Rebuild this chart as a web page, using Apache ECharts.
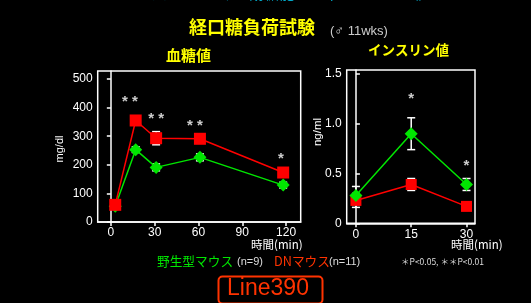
<!DOCTYPE html>
<html>
<head>
<meta charset="utf-8">
<script src="https://cdn.jsdelivr.net/npm/echarts@6/dist/echarts.min.js"></script>
<style>
  html, body { margin: 0; padding: 0; background: #000; }
  #chart { width: 531px; height: 303px; }
</style>
</head>
<body>
<div id="chart"></div>
<script>
  // 血糖値 (mg/dl)
  var glucoseTime = [3, 17, 31, 61, 118]
  var glucoseWT = [55, 253, 191, 226, 129]
  var glucoseWTErr = [6, 10, 12, 12, 10]
  var glucoseDN = [60, 355, 293, 291, 173]
  var glucoseDNErr = [8, 6, 23, 8, 6]
  var glucoseTicks = [0, 100, 200, 300, 400, 500]
  var glucoseXTicks = [0, 30, 60, 90, 120]
  var glucoseStars = [[13, 420, '* *'], [31, 361, '* *'], [57.5, 336, '* *'], [116.5, 222, '*']]

  // インスリン値 (ng/ml)
  var insulinTime = [0, 15, 30]
  var insulinWT = [0.28, 0.9, 0.39]
  var insulinWTErr = [0.09, 0.16, 0.06]
  var insulinDN = [0.23, 0.39, 0.17]
  var insulinDNErr = [0.07, 0.06, 0.03]
  var insulinTicks = [0, 0.5, 1.0, 1.5]
  var insulinXTicks = [0, 15, 30]
  var insulinStars = [[15, 1.25, '*'], [30, 0.58, '*']]

  var RED = '#ff0000'
  var GREEN = '#00e600'
  var FONT = '"Liberation Sans", Arial, sans-serif'
  var JP = '"Noto Sans CJK JP", sans-serif'

  function pairs(xs, ys) {
    return xs.map(function (x, i) { return [x, ys[i]] })
  }
  function triples(xs, ys, es) {
    return xs.map(function (x, i) { return [x, ys[i], es[i]] })
  }

  //误差线
  function errorBar(params, api) {
    var x = api.value(0), y = api.value(1), e = api.value(2)
    var hi = api.coord([x, y + e])
    var lo = api.coord([x, y - e])
    var w = 4
    var st = {stroke: '#fff', lineWidth: 1.5}
    return {
      type: 'group',
      children: [
        {type: 'line', shape: {x1: hi[0], y1: hi[1], x2: lo[0], y2: lo[1]}, style: st},
        {type: 'line', shape: {x1: hi[0] - w, y1: hi[1], x2: hi[0] + w, y2: hi[1]}, style: st},
        {type: 'line', shape: {x1: lo[0] - w, y1: lo[1], x2: lo[0] + w, y2: lo[1]}, style: st}
      ]
    }
  }

  function axisBase() {
    return {
      type: 'value',
      axisLine: {show: true, lineStyle: {color: '#fff', width: 1.5}},
      axisTick: {show: true, length: 4, lineStyle: {color: '#fff', width: 1.5}},
      axisLabel: {color: '#fff', fontSize: 12, fontFamily: FONT},
      splitLine: {show: false}
    }
  }

  var xL = axisBase()
  xL.gridIndex = 0
  xL.min = -9
  xL.max = 130
  xL.axisTick.customValues = glucoseXTicks
  xL.axisLabel.customValues = glucoseXTicks
  xL.axisLabel.margin = 5

  var yL = axisBase()
  yL.gridIndex = 0
  yL.min = 0
  yL.max = 528
  yL.axisTick.customValues = glucoseTicks
  yL.axisLabel.customValues = glucoseTicks
  yL.axisLabel.margin = 5

  var xR = axisBase()
  xR.gridIndex = 1
  xR.min = -2.5
  xR.max = 32.3
  xR.axisTick.customValues = insulinXTicks
  xR.axisLabel.customValues = insulinXTicks
  xR.axisLabel.margin = 5

  var yR = axisBase()
  yR.gridIndex = 1
  yR.min = 0
  yR.max = 1.54
  yR.axisTick.inside = true
  yR.axisTick.customValues = insulinTicks
  yR.axisLabel.customValues = insulinTicks
  yR.axisLabel.margin = 5
  yR.axisLabel.formatter = function (v) { return v === 0 ? '0' : v.toFixed(1) }

  function stars(data, xi) {
    return {
      type: 'scatter', xAxisIndex: xi, yAxisIndex: xi,
      symbolSize: 0, silent: true, z: 5,
      data: data,
      label: {
        show: true, position: 'inside', color: '#fff',
        fontSize: 15, fontWeight: 'bold', fontFamily: FONT,
        formatter: function (p) { return p.value[2] }
      }
    }
  }

  function lineSeries(xi, data, color, symbol, size) {
    return {
      type: 'line', xAxisIndex: xi, yAxisIndex: xi,
      data: data, symbol: symbol, symbolSize: size,
      lineStyle: {color: color, width: 1.5},
      itemStyle: {color: color, opacity: 1},
      z: 4, animation: false
    }
  }

  function errSeries(xi, data) {
    return {
      type: 'custom', xAxisIndex: xi, yAxisIndex: xi,
      renderItem: errorBar, data: data, z: 3, silent: true
    }
  }

  function txt(text, x, y, size, color, extra) {
    var o = {type: 'text', left: x, top: y, silent: true,
      style: {text: text, fill: color, fontSize: size, fontFamily: JP}}
    if (extra) { for (var k in extra) o.style[k] = extra[k] }
    return o
  }

  var chart = echarts.init(document.getElementById('chart'))
  var option = {
    backgroundColor: '#000',
    animation: false,
    grid: [
      {left: 97.7, right: 230.3, top: 71, bottom: 81, show: true, borderColor: '#fff', borderWidth: 1.5},
      {left: 346.7, right: 56, top: 70, bottom: 79.7, show: true, borderColor: '#fff', borderWidth: 1.5}
    ],
    xAxis: [xL, xR],
    yAxis: [yL, yR],
    series: [
      errSeries(0, triples(glucoseTime, glucoseWT, glucoseWTErr)),
      errSeries(0, triples(glucoseTime, glucoseDN, glucoseDNErr)),
      lineSeries(0, pairs(glucoseTime, glucoseWT), GREEN, 'diamond', 13),
      lineSeries(0, pairs(glucoseTime, glucoseDN), RED, 'rect', 12),
      stars(glucoseStars, 0),
      errSeries(1, triples(insulinTime, insulinWT, insulinWTErr)),
      errSeries(1, triples(insulinTime, insulinDN, insulinDNErr)),
      lineSeries(1, pairs(insulinTime, insulinDN), RED, 'rect', 11),
      lineSeries(1, pairs(insulinTime, insulinWT), GREEN, 'diamond', 13),
      stars(insulinStars, 1)
    ],
    graphic: [
      txt('DNマウスにおける耐糖能と血中インスリン値', 123, -14, 15, '#00a8c8'),
      txt('経口糖負荷試験', 189, 18, 18, '#ffff00', {fontWeight: 'bold'}),
      txt('(♂ 11wks)', 330, 25, 13, '#cccccc', {fontFamily: FONT}),
      txt('血糖値', 166, 48, 15, '#ffff00', {fontWeight: 'bold'}),
      txt('インスリン値', 368, 43, 13.5, '#ffff00', {fontWeight: 'bold'}),
      {type: 'text', x: 60, y: 149, rotation: Math.PI / 2, silent: true,
        style: {text: 'mg/dl', fill: '#fff', fontSize: 11, fontFamily: FONT, align: 'center', verticalAlign: 'middle'}},
      {type: 'text', x: 318, y: 132, rotation: Math.PI / 2, silent: true,
        style: {text: 'ng/ml', fill: '#fff', fontSize: 11.5, fontFamily: FONT, align: 'center', verticalAlign: 'middle'}},
      txt('時間(min)', 251, 239, 11.5, '#fff'),
      txt('時間(min)', 451, 239, 11.5, '#fff'),
      txt('野生型マウス', 157, 255, 12.7, GREEN),
      txt('(n=9)', 237, 256, 11, '#dddddd', {fontFamily: FONT}),
      txt('DNマウス', 274, 255, 12.7, '#ff3300'),
      txt('(n=11)', 329, 256, 11, '#dddddd', {fontFamily: FONT}),
      txt('＊P<0.05, ＊＊P<0.01', 401, 258, 8.5, '#dddddd'),
      {type: 'rect', left: 216, top: 274, silent: true,
        shape: {width: 104, height: 27, r: 4},
        style: {fill: 'none', stroke: '#ff3300', lineWidth: 2}},
      {type: 'text', x: 268, y: 288.5, silent: true,
        style: {text: 'Line390', fill: '#ff3300', fontSize: 23, fontFamily: FONT, align: 'center', verticalAlign: 'middle'}}
    ]
  }
  chart.setOption(option)
</script>
</body>
</html>
